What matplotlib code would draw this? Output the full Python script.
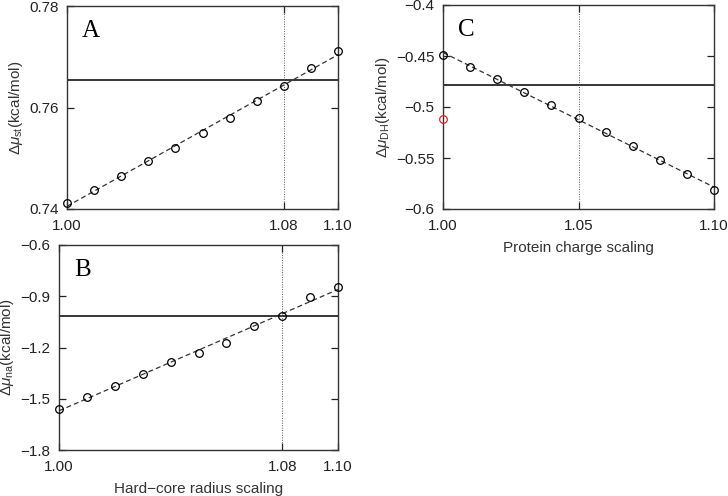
import numpy as np
import matplotlib
matplotlib.use('Agg')
import matplotlib.pyplot as plt

plt.rcParams['font.family'] = ['Liberation Sans', 'DejaVu Sans']
plt.rcParams['mathtext.fontset'] = 'custom'
plt.rcParams['mathtext.rm'] = 'Liberation Sans'
plt.rcParams['mathtext.it'] = 'Liberation Sans:italic'

# panel A: hard-core radius scaling vs steric term
x_a = [1.00, 1.01, 1.02, 1.03, 1.04, 1.05, 1.06, 1.07, 1.08, 1.09, 1.10]
y_a = [0.7412, 0.7437, 0.7465, 0.7494, 0.7521, 0.7549, 0.7580, 0.7612, 0.7642, 0.7678, 0.7711]
ref_a = 0.7655
vline_a = 1.08

# panel B: hard-core radius scaling vs non-specific attraction
x_b = [1.00, 1.01, 1.02, 1.03, 1.04, 1.05, 1.06, 1.07, 1.08, 1.09, 1.10]
y_b = [-1.562, -1.492, -1.425, -1.355, -1.285, -1.230, -1.176, -1.076, -1.014, -0.906, -0.848]
ref_b = -1.014
vline_b = 1.08

# panel C: protein charge scaling vs Debye-Hueckel term
x_c = [1.00, 1.01, 1.02, 1.03, 1.04, 1.05, 1.06, 1.07, 1.08, 1.09, 1.10]
y_c = [-0.4489, -0.4607, -0.4728, -0.4852, -0.4982, -0.5109, -0.5243, -0.5380, -0.5520, -0.5661, -0.5811]
red_x = [1.00]
red_y = [-0.5119]
ref_c = -0.4783
vline_c = 1.05

fig = plt.figure(figsize=(7.28, 4.96), dpi=100)
W, H = 728, 496

def make_ax(l, t, r, b):
    return fig.add_axes([l / W, 1 - b / H, (r - l) / W, (b - t) / H])

ax_a = make_ax(67, 6, 338, 209)
ax_b = make_ax(59, 245, 338, 450)
ax_c = make_ax(443, 5, 714, 209)


def draw_panel(ax, x, y, ref, vline, letter, xlim, ylim, xticks, yticks, xfmt, yfmt, ylabel):
    k, c = np.polyfit(x, y, 1)
    xs = np.array(xlim)
    ax.plot(xs, k * xs + c, color='#333333', lw=0.9, ls=(0, (4, 2.5)), zorder=2)
    ax.axhline(ref, color='black', lw=1.1, zorder=1)
    ax.axvline(vline, color='#555555', lw=0.7, ls=(0, (1, 1.5)), zorder=1)
    ax.plot(x, y, 'o', mfc='none', mec='black', ms=5.5, mew=0.9, zorder=3, clip_on=False)
    ax.set_xlim(xlim)
    ax.set_ylim(ylim)
    ax.set_xticks(xticks)
    ax.set_xticklabels([xfmt % v for v in xticks])
    ax.set_yticks(yticks)
    ax.set_yticklabels([(yfmt % v).replace('-', '\u2212') for v in yticks])
    ax.tick_params(direction='in', length=5, width=0.9, top=True, right=True,
                   labelsize=11, colors='#222222')
    ax.tick_params(axis='x', pad=7)
    ax.tick_params(axis='y', pad=6)
    for s in ax.spines.values():
        s.set_linewidth(1.0)
        s.set_color('#333333')
    ax.text(0.055, 0.93, letter, transform=ax.transAxes, ha='left', va='top',
            family=['Liberation Serif'], fontsize=18)
    ax.set_ylabel(ylabel, fontsize=11, color='#333333', labelpad=3)


draw_panel(ax_a, x_a, y_a, ref_a, vline_a, 'A', (1.0, 1.1), (0.74, 0.78),
           [1.00, 1.08, 1.10], [0.74, 0.76, 0.78], '%.2f', '%.2f',
           r'$\Delta\mu_{\mathrm{st}}$(kcal/mol)')
draw_panel(ax_b, x_b, y_b, ref_b, vline_b, 'B', (1.0, 1.1), (-1.8, -0.6),
           [1.00, 1.08, 1.10], [-1.8, -1.5, -1.2, -0.9, -0.6], '%.2f', '%.1f',
           r'$\Delta\mu_{\mathrm{na}}$(kcal/mol)')
draw_panel(ax_c, x_c, y_c, ref_c, vline_c, 'C', (1.0, 1.1), (-0.6, -0.4),
           [1.00, 1.05, 1.10], [-0.6, -0.55, -0.5, -0.45, -0.4], '%.2f', '%g',
           r'$\Delta\mu_{\mathrm{DH}}$(kcal/mol)')
ax_c.plot(red_x, red_y, 'o', mfc='none', mec='#dd2222', ms=5.5, mew=0.9, zorder=4, clip_on=False)

ax_b.set_xlabel('Hard\u2212core radius scaling', fontsize=11, color='#333333', labelpad=6)
ax_c.set_xlabel('Protein charge scaling', fontsize=11, color='#333333', labelpad=6)

fig.savefig('out.png', dpi=100)
